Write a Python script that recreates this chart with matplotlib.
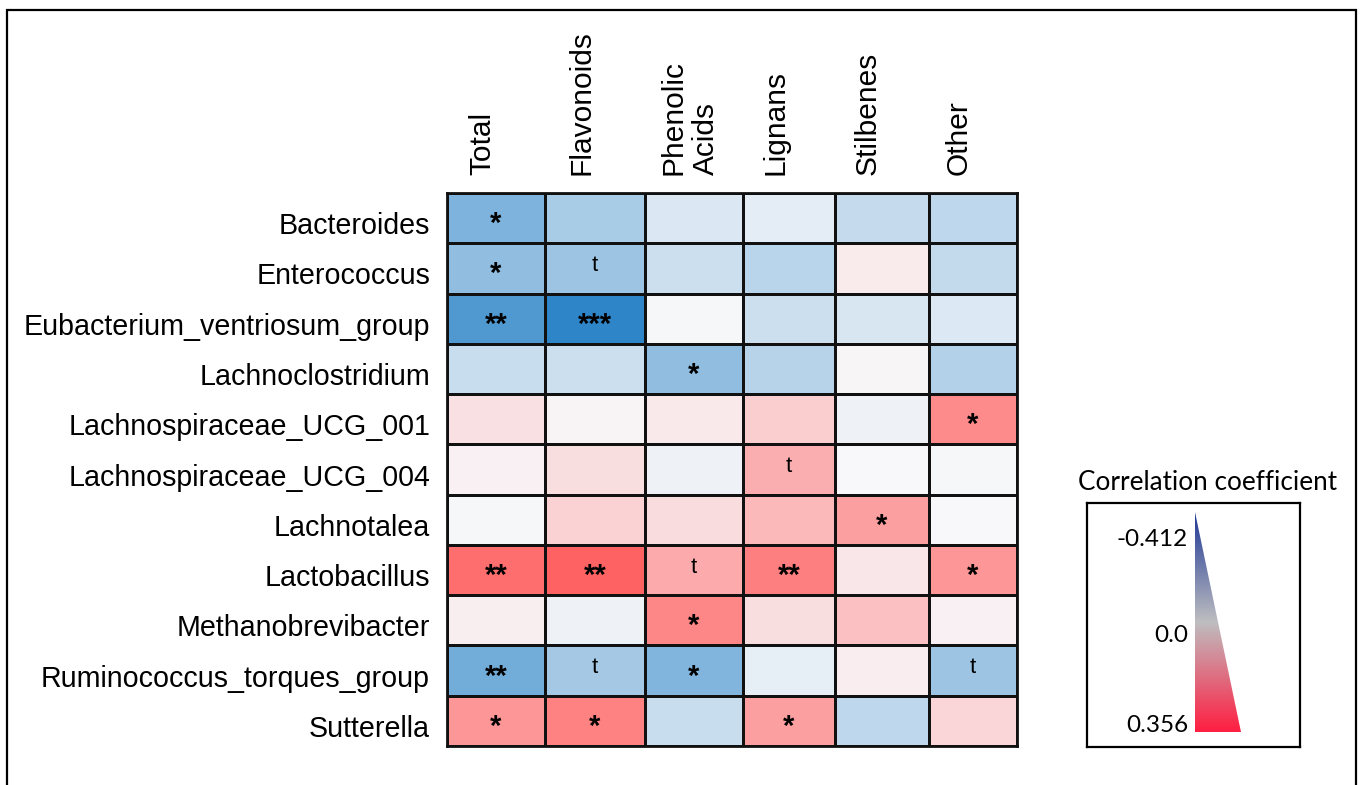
import numpy as np
import matplotlib
matplotlib.use("Agg")
import matplotlib.pyplot as plt
from matplotlib.colors import LinearSegmentedColormap, TwoSlopeNorm
from matplotlib.patches import Rectangle, Polygon
from matplotlib.transforms import ScaledTranslation

# ---------------- data ----------------
taxa = ["Bacteroides", "Enterococcus", "Eubacterium_ventriosum_group",
        "Lachnoclostridium", "Lachnospiraceae_UCG_001", "Lachnospiraceae_UCG_004",
        "Lachnotalea", "Lactobacillus", "Methanobrevibacter",
        "Ruminococcus_torques_group", "Sutterella"]
classes = ["Total", "Flavonoids", "Phenolic\nAcids", "Lignans", "Stilbenes", "Other"]

r_total      = [-0.251, -0.210, -0.343, -0.098, 0.055, 0.019, -0.006, 0.328, 0.024, -0.271, 0.233]
r_flavonoids = [-0.163, -0.184, -0.412, -0.088, 0.012, 0.062, 0.090, 0.356, -0.020, -0.169, 0.280]
r_phenolic   = [-0.061, -0.088, -0.006, -0.210, 0.036, -0.020, 0.066, 0.185, 0.268, -0.241, -0.098]
r_lignans    = [-0.041, -0.128, -0.088, -0.133, 0.102, 0.173, 0.150, 0.285, 0.062, -0.033, 0.209]
r_stilbenes  = [-0.106, 0.031, -0.067, 0.007, -0.020, 0.002, 0.209, 0.043, 0.133, 0.026, -0.118]
r_other      = [-0.118, -0.108, -0.057, -0.139, 0.256, -0.004, 0.001, 0.233, 0.019, -0.184, 0.078]

sig_total      = ["*", "*", "**", "", "", "", "", "**", "", "**", "*"]
sig_flavonoids = ["", "t", "***", "", "", "", "", "**", "", "t", "*"]
sig_phenolic   = ["", "", "", "*", "", "", "", "t", "*", "*", ""]
sig_lignans    = ["", "", "", "", "", "t", "", "**", "", "", "*"]
sig_stilbenes  = ["", "", "", "", "", "", "*", "", "", "", ""]
sig_other      = ["", "", "", "", "*", "", "", "*", "", "t", ""]

legend_title = "Correlation coefficient"

# ---------------- layout / style ----------------
W, H, DPI = 1361, 785, 100
COL_W = [98, 100, 98, 92, 94, 88]          # column widths (pixels)
GRID_LEFT, GRID_TOP, GRID_BOTTOM = 447, 193, 746
LABEL_FONT = "Liberation Sans"
LEG_FONT = "Lato"

data = np.array([r_total, r_flavonoids, r_phenolic, r_lignans, r_stilbenes, r_other]).T
sigs = np.array([sig_total, sig_flavonoids, sig_phenolic, sig_lignans, sig_stilbenes, sig_other]).T
vmin, vmax = data.min(), data.max()

cell_cmap = LinearSegmentedColormap.from_list(
    "cells", [(46/255, 134/255, 200/255), (248/255, 248/255, 250/255), (255/255, 98/255, 98/255)])
norm = TwoSlopeNorm(vmin=vmin, vcenter=0.0, vmax=vmax)

fig = plt.figure(figsize=(W / DPI, H / DPI), dpi=DPI)
fig.patch.set_facecolor("white")

grid_w = sum(COL_W)
ax = fig.add_axes([GRID_LEFT / W, (H - GRID_BOTTOM) / H, grid_w / W, (GRID_BOTTOM - GRID_TOP) / H])
xe = np.concatenate([[0], np.cumsum(COL_W)])
ye = np.arange(len(taxa) + 1)
ax.pcolormesh(xe, ye, data, cmap=cell_cmap, norm=norm, edgecolors="#111111", linewidth=1.8)
ax.set_xlim(0, grid_w)
ax.set_ylim(len(taxa), 0)
for sp in ax.spines.values():
    sp.set_linewidth(2.0)
    sp.set_color("#111111")
ax.set_xticks([])
ax.set_yticks([])

xc = (xe[:-1] + xe[1:]) / 2
yc = np.arange(len(taxa)) + 0.5

# row labels
row_tr = ax.get_yaxis_transform() + ScaledTranslation(-17 / DPI, -5 / DPI, fig.dpi_scale_trans)
for y, lab in zip(yc, taxa):
    ax.text(0, y, lab, transform=row_tr, ha="right", va="center_baseline",
            fontsize=20.6, family=LABEL_FONT)

# column headers (rotated)
for x, lab in zip(xc, classes):
    dx = -4 if "\n" in lab else -14
    tr = ax.get_xaxis_transform() + ScaledTranslation(dx / DPI, 18 / DPI, fig.dpi_scale_trans)
    ax.text(x, 1.0, lab, transform=tr, rotation=90, ha="center", va="bottom",
            fontsize=21.5, family=LABEL_FONT, multialignment="left")

# significance marks
star_off = ScaledTranslation(0, -6 / DPI, fig.dpi_scale_trans)
t_off = ScaledTranslation(0, 3 / DPI, fig.dpi_scale_trans)
for i in range(len(taxa)):
    for j in range(len(classes)):
        s = sigs[i, j]
        if not s:
            continue
        if s == "t":
            ax.text(xc[j], yc[i], s, ha="center", va="center", fontsize=16,
                    family=LABEL_FONT, transform=ax.transData + t_off)
        else:
            ax.text(xc[j], yc[i], s, ha="center", va="center", fontsize=21,
                    fontweight="bold", family=LABEL_FONT,
                    transform=ax.transData + star_off)

# ---------------- legend ----------------
LB_L, LB_T, LB_R, LB_B = 1087, 503, 1300, 747
lax = fig.add_axes([LB_L / W, (H - LB_B) / H, (LB_R - LB_L) / W, (LB_B - LB_T) / H])
lax.set_xlim(0, LB_R - LB_L)
lax.set_ylim(LB_B - LB_T, 0)
lax.set_xticks([])
lax.set_yticks([])
for sp in lax.spines.values():
    sp.set_linewidth(1.6)
    sp.set_color("black")

leg_cmap = LinearSegmentedColormap.from_list(
    "leg", [(30/255, 55/255, 150/255), (190/255, 190/255, 192/255), (255/255, 30/255, 65/255)])
grad = np.linspace(0, 1, 256).reshape(-1, 1)
tri_x0, tri_x1, tri_top, tri_bot = 108, 154, 9, 229
im = lax.imshow(grad, cmap=leg_cmap, aspect="auto", origin="upper",
                extent=[tri_x0, tri_x1, tri_bot, tri_top], interpolation="bilinear")
tri = Polygon([(tri_x0, tri_top), (tri_x0, tri_bot), (tri_x1, tri_bot)],
              closed=True, facecolor="none", edgecolor="none", transform=lax.transData)
lax.add_patch(tri)
im.set_clip_path(tri)

leg_vals = [vmin, 0.0, vmax]
leg_y = [37, 132, 222]
for v, y in zip(leg_vals, leg_y):
    lab = "0.0" if v == 0 else f"{v:.3f}"
    lax.text(101, y, lab, ha="right", va="center", fontsize=17.5, family=LEG_FONT)

lax.text(120, -21, legend_title, ha="center", va="center", fontsize=18.8,
         family=LEG_FONT, clip_on=False)

# outer frame
fig.add_artist(Rectangle((7 / W, -0.05), (1356 - 7) / W, 1 - 10 / H + 0.05,
                         transform=fig.transFigure, fill=False, edgecolor="black",
                         linewidth=1.6))

fig.savefig("out.png", dpi=DPI, facecolor="white")
